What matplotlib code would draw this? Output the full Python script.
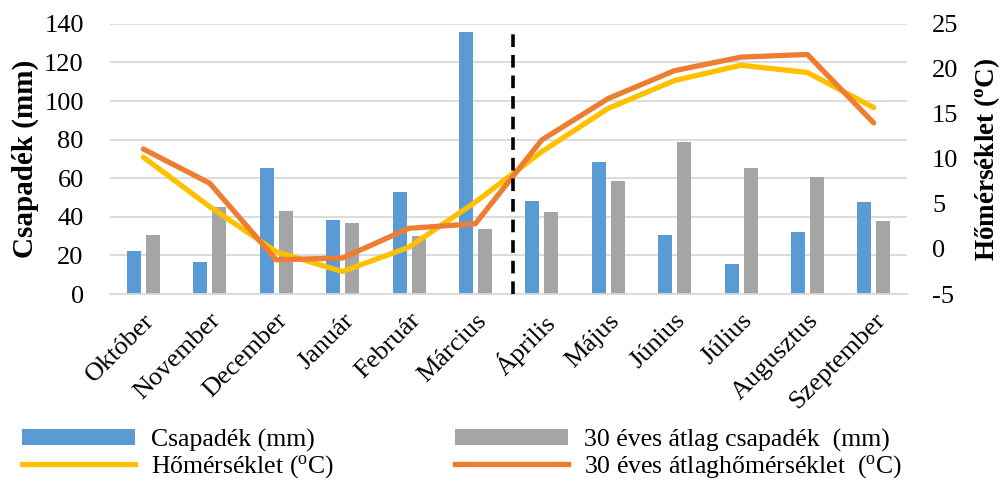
import numpy as np
import matplotlib
matplotlib.use("Agg")
import matplotlib.pyplot as plt
from matplotlib.patches import Patch
from matplotlib.lines import Line2D

plt.rcParams['font.family'] = ['Liberation Serif', 'DejaVu Serif']
plt.rcParams['mathtext.fontset'] = 'custom'
plt.rcParams['mathtext.rm'] = 'Liberation Serif'
plt.rcParams['mathtext.it'] = 'Liberation Serif'
plt.rcParams['mathtext.bf'] = 'Liberation Serif:bold'
plt.rcParams['axes.unicode_minus'] = False

# data
months = ["Október", "November", "December", "Január", "Február", "Március",
          "Április", "Május", "Június", "Július", "Augusztus", "Szeptember"]
csapadek = [22.3, 16.5, 65.5, 38.5, 53, 136, 48, 68.5, 30.6, 15.5, 32, 47.5]
atlag_csapadek = [30.6, 45, 43, 37, 30, 33.5, 42.5, 58.6, 79, 65.5, 60.5, 38]
homerseklet = [10.2, 4.7, -0.3, -2.5, 0.2, 5.2, 10.8, 15.6, 18.7, 20.4, 19.6, 15.7]
atlag_homerseklet = [11.1, 7.3, -1.2, -1.0, 2.3, 2.8, 12.1, 16.7, 19.8, 21.3, 21.6, 14.0]
split_pos = 5.57  # dashed line between Március and Április

c_blue = "#5B9BD5"
c_gray = "#A5A5A5"
c_yellow = "#FFC000"
c_orange = "#ED7D31"

fig = plt.figure(figsize=(10.01, 4.86), dpi=100)
ax = fig.add_axes([0.110, 0.395, 0.796, 0.556])
ax2 = ax.twinx()

x = np.arange(len(months))
w = 0.21
ax.bar(x - 0.14, csapadek, w, color=c_blue, zorder=2)
ax.bar(x + 0.145, atlag_csapadek, w, color=c_gray, zorder=2)
ax.set_xlim(-0.5, len(months) - 0.5)
ax.set_ylim(0, 140)
ax.set_yticks(range(0, 141, 20))
ax.grid(axis='y', color='#D9D9D9', linewidth=1.3, zorder=0)
ax.set_axisbelow(True)

ax2.plot(x, homerseklet, color=c_yellow, linewidth=3.8, solid_capstyle='round', zorder=3)
ax2.plot(x, atlag_homerseklet, color=c_orange, linewidth=3.8, solid_capstyle='round', zorder=4)
ax2.set_ylim(-5, 25)
ax2.set_yticks(range(-5, 26, 5))
ax2.axvline(split_pos, ymin=0, ymax=0.99, color='black', linestyle=(0, (3.5, 2.2)),
            linewidth=2.6, zorder=5)

for a in (ax, ax2):
    for s in a.spines.values():
        s.set_visible(False)
    a.tick_params(length=0, labelsize=19)
ax.spines['bottom'].set_visible(True)
ax.spines['bottom'].set_color('#D9D9D9')
ax.spines['bottom'].set_linewidth(1.3)

ax.set_xticks(x)
ax.set_xticklabels(months, rotation=45, ha='right', rotation_mode='anchor', fontsize=19)
ax.tick_params(axis='x', pad=11)
ax.tick_params(axis='y', pad=19)
ax2.tick_params(axis='y', pad=18)

ax.set_ylabel("Csapadék (mm)", fontsize=21, fontweight='bold', labelpad=4)
ax2.set_ylabel("Hőmérséklet ($\\mathbf{^{o}}$C)", fontsize=19.5, fontweight='bold', labelpad=10)

handles = [Patch(facecolor=c_blue), Line2D([], [], color=c_yellow, linewidth=3.8),
           Patch(facecolor=c_gray), Line2D([], [], color=c_orange, linewidth=3.8)]
labels = ["Csapadék (mm)", "Hőmérséklet ($^{\\mathrm{o}}$C)",
          "30 éves átlag csapadék  (mm)", "30 éves átlaghőmérséklet  ($^{\\mathrm{o}}$C)"]
fig.legend(handles, labels, ncol=2, loc='upper left', bbox_to_anchor=(0.022, 0.118),
           frameon=False, fontsize=18.5, handlelength=4.4, handleheight=0.6,
           handletextpad=0.62, columnspacing=4.7, labelspacing=0.05, borderpad=0,
           borderaxespad=0)

fig.savefig("out.png", dpi=100)
